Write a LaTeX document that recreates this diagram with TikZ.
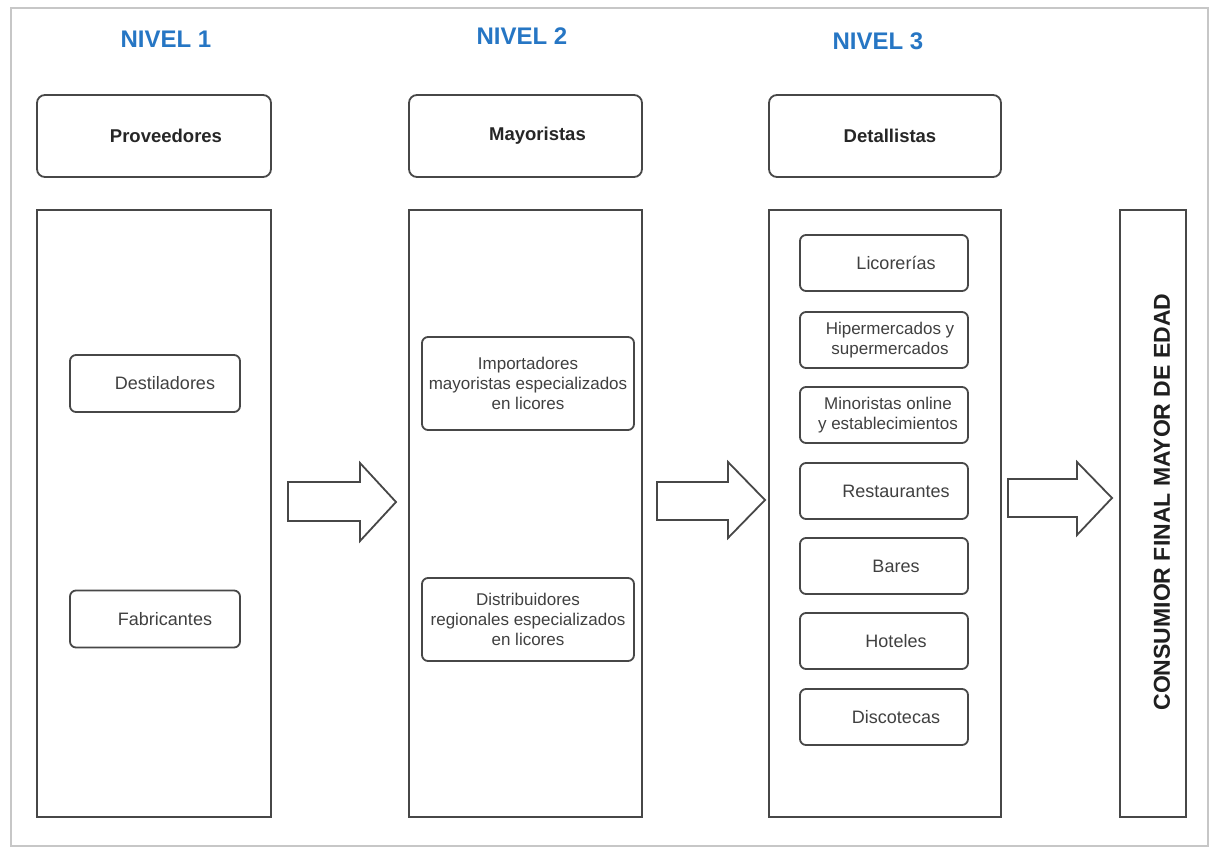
\documentclass[tikz,border=0pt]{standalone}
\usepackage{fontspec}
\setmainfont{Liberation Sans}
\begin{document}
\begin{tikzpicture}[x=1pt,y=-1pt,
  line/.style={draw=black!72, line width=1.8pt},
  level/.style={font=\fontsize{24}{28}\selectfont\bfseries, text={rgb,255:red,38;green,118;blue,196}},
  hdr/.style={line, rounded corners=8pt, minimum width=234pt, minimum height=82pt, inner sep=0pt},
  hdrtxt/.style={font=\fontsize{18.5}{22}\selectfont\bfseries, text=black!85},
  column/.style={line, minimum width=233pt, minimum height=607pt, inner sep=0pt},
  item/.style={line, rounded corners=6pt, inner sep=0pt},
  itemtxt/.style={font=\fontsize{18}{20}\selectfont, text=black!75, align=center},
  multitxt/.style={font=\fontsize{17}{20}\selectfont, text=black!75, align=center},
  blockarrow/.style={draw=black!72, line width=1.8pt, line join=miter, fill=white}
]
\useasboundingbox (0,0) rectangle (1211,848);
\fill[white] (0,0) rectangle (1211,848);
% outer frame
\draw[draw=black!22, line width=1.6pt] (11,8) rectangle (1208,846);

% level titles
\node[level] (n1) at (166,39) {NIVEL 1};
\node[level] (n2) at (522,36) {NIVEL 2};
\node[level] (n3) at (878,41) {NIVEL 3};

% header boxes
\node[hdr, label={[hdrtxt,xshift=12pt]center:Proveedores}] (prov) at (154,136) {};
\node[hdr, minimum width=233pt, label={[hdrtxt,xshift=12pt]center:Mayoristas}] (may) at (525.5,136) {};
\node[hdr, minimum width=232pt, label={[hdrtxt,xshift=5pt]center:Detallistas}] (det) at (885,136) {};

% tall columns
\node[column, minimum width=234pt] (c1) at (154,513.5) {};
\node[column] (c2) at (525.5,513.5) {};
\node[column, minimum width=232pt] (c3) at (885,513.5) {};
\node[column, minimum width=66pt] (c4) at (1153,513.5) {};
\node[font=\fontsize{23}{26}\selectfont\bfseries, text=black!88, rotate=90] (cons) at (1162,502) {CONSUMIOR FINAL MAYOR DE EDAD};

% level 1 items
\node[item, minimum width=170pt, minimum height=57pt, label={[itemtxt,xshift=10pt]center:Destiladores}] (dest) at (155,383.5) {};
\node[item, minimum width=170pt, minimum height=57pt, label={[itemtxt,xshift=10pt]center:Fabricantes}] (fab) at (155,619) {};

% level 2 items
\node[item, minimum width=212pt, minimum height=93pt, label={[multitxt]center:Importadores\\mayoristas especializados\\en licores}] (imp) at (528,383.5) {};
\node[item, minimum width=212pt, minimum height=83pt, label={[multitxt]center:Distribuidores\\regionales especializados\\en licores}] (dist) at (528,619.5) {};

% level 3 items
\node[item, minimum width=168pt, minimum height=56pt, label={[itemtxt,xshift=12pt]center:Licorerías}] (lic) at (884,263) {};
\node[item, minimum width=168pt, minimum height=56pt, label={[multitxt,xshift=6pt]center:Hipermercados y\\supermercados}] (hip) at (884,340) {};
\node[item, minimum width=168pt, minimum height=56pt, label={[multitxt,xshift=4pt]center:Minoristas online\\y establecimientos}] (min) at (884,415) {};
\node[item, minimum width=168pt, minimum height=56pt, label={[itemtxt,xshift=12pt]center:Restaurantes}] (rest) at (884,491) {};
\node[item, minimum width=168pt, minimum height=56pt, label={[itemtxt,xshift=12pt]center:Bares}] (bar) at (884,566) {};
\node[item, minimum width=168pt, minimum height=56pt, label={[itemtxt,xshift=12pt]center:Hoteles}] (hot) at (884,641) {};
\node[item, minimum width=168pt, minimum height=56pt, label={[itemtxt,xshift=12pt]center:Discotecas}] (disc) at (884,717) {};

% block arrows between levels
\draw[blockarrow] (288,482) -- (360,482) -- (360,463) -- (396,502) -- (360,541) -- (360,521) -- (288,521) -- cycle;
\draw[blockarrow] (657,482) -- (728,482) -- (728,462) -- (765,500) -- (728,538) -- (728,520) -- (657,520) -- cycle;
\draw[blockarrow] (1008,479) -- (1077,479) -- (1077,462) -- (1112,498) -- (1077,535) -- (1077,517) -- (1008,517) -- cycle;
\end{tikzpicture}
\end{document}
